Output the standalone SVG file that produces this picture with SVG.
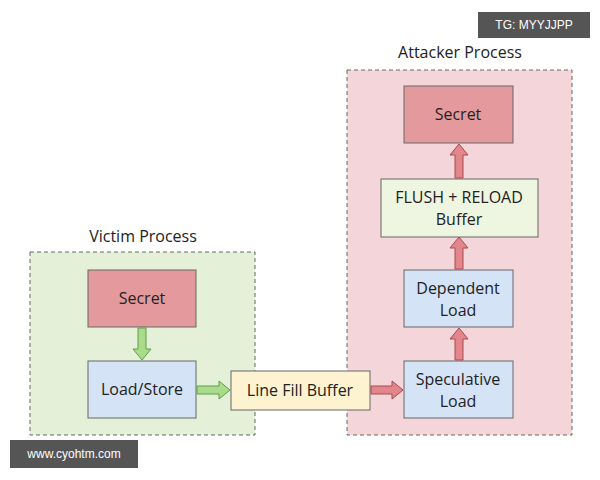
<svg xmlns="http://www.w3.org/2000/svg" width="600" height="480" viewBox="0 0 600 480">
<style>
text{font-family:"Open Sans","DejaVu Sans",sans-serif;font-size:16px;fill:#222;text-anchor:middle}
.proc{stroke:#666;stroke-dasharray:4 3;stroke-width:1}
.n{stroke:#666;stroke-width:1}
.red{fill:#e49a9d}.blue{fill:#d5e3f7}.yel{fill:#fdf3d1}.grn{fill:#eef5e0}
.ga{fill:#a8dc8a;stroke:#5e9e48;stroke-width:1}
.ra{fill:#e3868b;stroke:#a84a50;stroke-width:1}
.badge{fill:#555}
.bt{fill:#fff;font-size:12px;font-family:"Liberation Sans",sans-serif}
</style>
<rect width="600" height="480" fill="#fff"/>
<g id="victim-process"><rect class="proc" x="30" y="252" width="225" height="183" fill="#e4f1d8"/><text x="143" y="242">Victim Process</text></g>
<g id="attacker-process"><rect class="proc" x="347" y="70" width="225" height="365" fill="#f4d6da"/><text x="460" y="58">Attacker Process</text></g>
<g id="victim-secret"><rect class="n red" x="88" y="270" width="108" height="57"/><text x="142" y="304">Secret</text></g>
<g id="load-store"><rect class="n blue" x="88" y="361" width="108" height="57"/><text x="142" y="395">Load/Store</text></g>
<g id="line-fill-buffer"><rect class="n yel" x="231" y="371" width="139" height="39"/><text x="300" y="396">Line Fill Buffer</text></g>
<g id="speculative-load"><rect class="n blue" x="404" y="361" width="109" height="57"/><text x="458" y="385">Speculative</text><text x="458" y="407">Load</text></g>
<g id="dependent-load"><rect class="n blue" x="404" y="270" width="109" height="57"/><text x="458" y="294">Dependent</text><text x="458" y="316">Load</text></g>
<g id="flush-reload"><rect class="n grn" x="381" y="179" width="157" height="58"/><text x="459" y="203">FLUSH + RELOAD</text><text x="459" y="225">Buffer</text></g>
<g id="attacker-secret"><rect class="n red" x="404" y="86" width="109" height="57"/><text x="458" y="120">Secret</text></g>
<g id="connectors">
<polygon class="ga" points="138,328 146,328 146,349 151,349 142,360 133,349 138,349"/>
<polygon class="ga" points="197,386 197,394 219,394 219,399 230,390 219,381 219,386"/>
<polygon class="ra" points="371,386 371,394 392,394 392,399 403,390 392,381 392,386"/>
<polygon class="ra" points="455,360 463,360 463,339 468,339 459,328 450,339 455,339"/>
<polygon class="ra" points="455,269 463,269 463,248 468,248 459,237 450,248 455,248"/>
<polygon class="ra" points="455,178 463,178 463,155 468,155 459,144 450,155 455,155"/>
</g>
<g id="badges">
<rect class="badge" x="478" y="12" width="112" height="26"/><text class="bt" x="534" y="29">TG: MYYJJPP</text>
<rect class="badge" x="10" y="440" width="128" height="28"/><text class="bt" x="74" y="458">www.cyohtm.com</text>
</g>
</svg>
